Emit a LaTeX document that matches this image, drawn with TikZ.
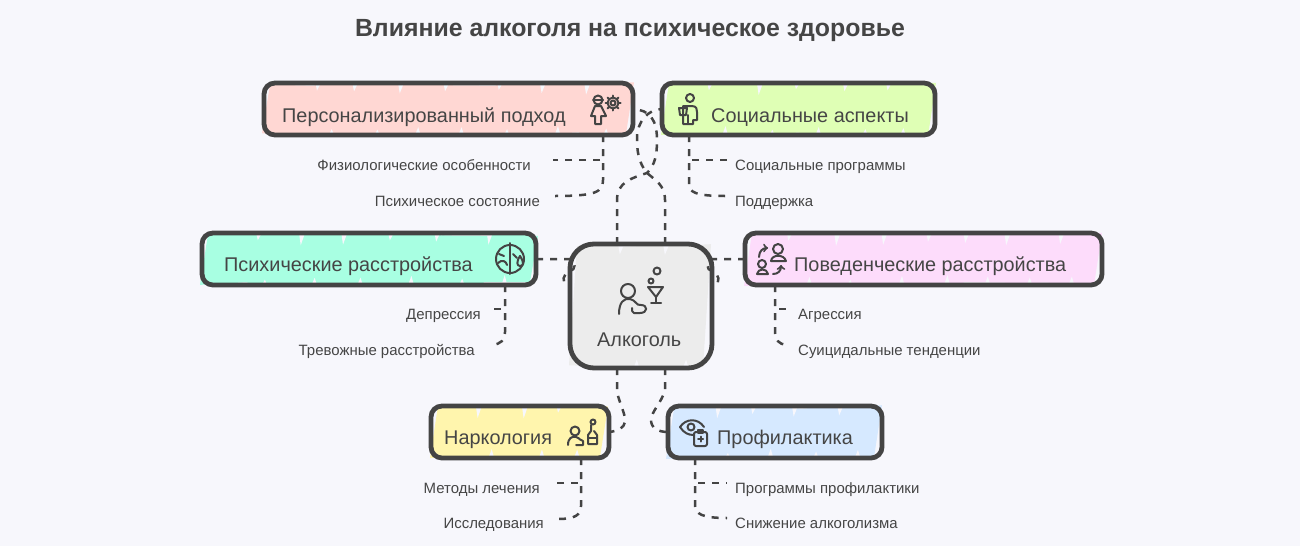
\documentclass[tikz,border=0pt]{standalone}
\usepackage{fontspec}
\setmainfont{Liberation Sans}
\definecolor{inkc}{HTML}{444444}
\definecolor{txtc}{HTML}{454545}
\definecolor{bgc}{HTML}{F7F7FC}
\definecolor{persc}{HTML}{FFD7D3}
\definecolor{socc}{HTML}{DFFFB5}
\definecolor{psyc}{HTML}{A8FFE2}
\definecolor{behc}{HTML}{FDDCFB}
\definecolor{alcc}{HTML}{ECECEC}
\definecolor{narc}{HTML}{FFF5AD}
\definecolor{proc}{HTML}{D6E9FF}
\tikzset{
  box/.style={draw=inkc, line width=4.8pt, rounded corners=11pt, inner sep=0pt, outer sep=0pt},
  boxtxt/.style={anchor=base west, inner sep=0pt, text=txtc, font=\fontsize{19.85}{24}\selectfont},
  subtxt/.style={inner sep=0pt, text=txtc, font=\fontsize{14.95}{18}\selectfont},
  link/.style={draw=inkc, line width=2.5pt, dash pattern=on 7pt off 7pt},
  ico/.style={draw=inkc, line width=2pt, line cap=round, line join=round},
}
% sketchy marker strokes behind a box: x1,y1,x2,y2,colour
\newcommand{\hatchfill}[5]{%
  \pgfmathtruncatemacro\hcount{(#3-#1)/48}
  \pgfmathsetmacro\hwid{(#3-#1)/(\hcount+1)}
  \foreach \hn in {0,...,\hcount}{
    \pgfmathsetmacro\xa{#1+\hn*\hwid}
    \pgfmathsetmacro\xb{\xa+\hwid+2}
    \pgfmathsetmacro\ta{rnd*4-2}
    \pgfmathsetmacro\tb{rnd*4-2}
    \pgfmathsetmacro\tc{rnd*4-2}
    \pgfmathsetmacro\td{rnd*4-2}
    \fill[#5] (\xa+4,#2+\ta) -- (\xb+4,#2+\tb) -- (\xb-4,#4-\tc) -- (\xa-4,#4-\td) -- cycle;
  }
  \foreach \hn in {1,...,\hcount}{
    \pgfmathsetmacro\xa{#1+\hn*\hwid+rnd*12-6}
    \pgfmathsetmacro\xc{#1+\hn*\hwid+rnd*12+10}
    \pgfmathsetmacro\ta{rnd*7+5}
    \pgfmathsetmacro\tc{rnd*6+4}
    \fill[bgc] (\xa,#2-3) -- (\xa+7,#2-3) -- (\xa+2,#2+\ta) -- cycle;
    \fill[bgc] (\xc,#4+3) -- (\xc+7,#4+3) -- (\xc+4,#4-\tc) -- cycle;
  }
}
\begin{document}
\begin{tikzpicture}[x=1pt,y=-1pt]
\pgfmathsetseed{11}
\useasboundingbox (0,0) rectangle (1300,546);
\fill[bgc] (0,0) rectangle (1300,546);
\node[text=txtc, inner sep=0pt, anchor=base, font=\bfseries\fontsize{24.85}{28}\selectfont] (title) at (630,36) {Влияние алкоголя на психическое здоровье};

% marker fills
\hatchfill{266}{84}{628}{134}{persc}
\hatchfill{665}{84}{930}{134}{socc}
\hatchfill{204}{234}{532}{284}{psyc}
\hatchfill{748}{234}{1096}{284}{behc}
\hatchfill{573}{246}{705}{367}{alcc}
\hatchfill{434}{407}{602}{457}{narc}
\hatchfill{670}{407}{876}{457}{proc}

% boxes
\node[box, minimum width=369pt, minimum height=52pt] (pers) at (448.5,109) {};
\node[box, minimum width=273pt, minimum height=52pt] (soc) at (798.5,109) {};
\node[box, minimum width=334pt, minimum height=52pt] (psy) at (369,259) {};
\node[box, minimum width=357pt, minimum height=52pt] (beh) at (923.5,259) {};
\node[box, rounded corners=24pt, minimum width=142pt, minimum height=124pt] (alc) at (641,306) {};
\node[box, minimum width=178pt, minimum height=52pt] (nar) at (520,432) {};
\node[box, minimum width=214pt, minimum height=52pt] (pro) at (775,432) {};

% box labels
\node[boxtxt] (perslbl) at (282,122) {Персонализированный подход};
\node[boxtxt] (soclbl) at (711,122) {Социальные аспекты};
\node[boxtxt] (psylbl) at (224,271) {Психические расстройства};
\node[boxtxt] (behlbl) at (794,271) {Поведенческие расстройства};
\node[boxtxt] (alclbl) at (597,346) {Алкоголь};
\node[boxtxt] (narlbl) at (444,444) {Наркология};
\node[boxtxt] (prolbl) at (717,444) {Профилактика};

% free ends of the side lines
\coordinate (fizend) at (553,160);
\coordinate (psiend) at (555,196);
\coordinate (sprend) at (727,160);
\coordinate (podend) at (725,196);
\coordinate (depend) at (490,309);
\coordinate (treend) at (492,345);
\coordinate (agrend) at (790,309);
\coordinate (suiend) at (786,345);
\coordinate (metend) at (553,483);
\coordinate (issend) at (558,519);
\coordinate (prgend) at (727,483);
\coordinate (sniend) at (727,518);

% side lines
\draw[link] ([xshift=154.5pt]pers.south) |- (fizend);
\draw[link] ([xshift=154.5pt]pers.south) -- (603,180) .. controls (603,192) and (596,196) .. (psiend);
\draw[link] ([xshift=-109.5pt]soc.south) |- (sprend);
\draw[link] ([xshift=-109.5pt]soc.south) -- (689,184) .. controls (689,192) and (695,196) .. (podend);
\draw[link] ([xshift=136pt]psy.south) |- (depend);
\draw[link] ([xshift=136pt]psy.south) -- (505,332) .. controls (505,340) and (501,344) .. (treend);
\draw[link] ([xshift=-148.5pt]beh.south) |- (agrend);
\draw[link] ([xshift=-148.5pt]beh.south) -- (775,332) .. controls (775,340) and (779,344) .. (suiend);
\draw[link] ([xshift=61pt]nar.south) |- (metend);
\draw[link] ([xshift=61pt]nar.south) -- (581,506) .. controls (581,515) and (575,519) .. (issend);
\draw[link] ([xshift=-80pt]pro.south) |- (prgend);
\draw[link] ([xshift=-80pt]pro.south) -- (695,505) .. controls (695,514) and (702,518) .. (sniend);

% lines from the centre
\draw[link] ([xshift=-24pt]alc.north) -- (617,200) .. controls (617,182) and (632,178) .. (647,173) .. controls (655,165) and (657,155) .. (657,140) .. controls (657,120) and (650,110) .. (pers.east);
\draw[link] ([xshift=24pt]alc.north) -- (665,200) .. controls (665,185) and (655,180) .. (647,173) .. controls (638,162) and (637,150) .. (637,138) .. controls (637,122) and (648,109) .. (soc.west);
\draw[link] (psy.east) -- (alc.west |- psy.east) .. controls (576,262) and (576,270) .. (570,271) .. controls (562,274) and (562,282) .. (567,287);
\draw[link] (beh.west) -- (alc.east |- beh.west) .. controls (706,262) and (706,270) .. (712,271) .. controls (720,274) and (720,282) .. (715,287);
\draw[link] ([xshift=-24pt]alc.south) -- (617,392) .. controls (620,405) and (626,415) .. (625,422) .. controls (624,428) and (618,431) .. (nar.east);
\draw[link] ([xshift=24pt]alc.south) -- (665,390) .. controls (662,402) and (651,412) .. (651,420) .. controls (651,428) and (658,432) .. (pro.west);

% small labels
\node[subtxt, anchor=base east] (fizlbl) at (531,170) {Физиологические особенности};
\node[subtxt, anchor=base east] (psilbl) at (540,206) {Психическое состояние};
\node[subtxt, anchor=base west] (sprlbl) at (735,170) {Социальные программы};
\node[subtxt, anchor=base west] (podlbl) at (735,206) {Поддержка};
\node[subtxt, anchor=base east] (deplbl) at (481,319) {Депрессия};
\node[subtxt, anchor=base east] (trelbl) at (475,355) {Тревожные расстройства};
\node[subtxt, anchor=base west] (agrlbl) at (798,319) {Агрессия};
\node[subtxt, anchor=base west] (suilbl) at (798,355) {Суицидальные тенденции};
\node[subtxt, anchor=base east] (metlbl) at (540,493) {Методы лечения};
\node[subtxt, anchor=base east] (isslbl) at (544,528) {Исследования};
\node[subtxt, anchor=base west] (prglbl) at (735,493) {Программы профилактики};
\node[subtxt, anchor=base west] (snilbl) at (735,528) {Снижение алкоголизма};

% icon: woman and gear
\draw[ico] (598,100) circle (4.5);
\draw[ico] (593,100) -- (603,100);
\draw[ico] (595,106) -- (601,106) -- (606,116) -- (601,116) -- (601,124) -- (595,124) -- (595,116) -- (591,116) -- cycle;
\draw[ico] (613,103) circle (2.5);
\draw[ico] (613,103) circle (5.5);
\foreach \ang in {0,45,...,315}
  \draw[ico] (613,103) ++(\ang:5.5) -- ++(\ang:2);
% icon: standing person
\draw[ico] (690,98) circle (4);
\draw[ico] (683,124) -- (683,106) -- (692,106) .. controls (697,106) and (697,110) .. (697,112) -- (697,120) -- (693,120) -- (693,124) -- (683,124);
\draw[ico] (679,108) -- (687,108) -- (686,115) -- (680,115) -- cycle;
\draw[ico] (688,115) -- (688,124);
% icon: split head
\draw[ico] (510,259) circle (14);
\draw[ico] (510,243) -- (510,274);
\draw[ico] (499,254) -- (504,256);
\draw[ico] (498,263) .. controls (502,259) and (506,261) .. (507,265);
\draw[ico] (513,254) -- (517,258);
\draw[ico] (520,256) .. controls (516,262) and (517,266) .. (520,266) .. controls (524,266) and (524,262) .. (520,256);
% icon: two people and arrows
\draw[ico] (778,249) circle (5);
\draw[ico] (771,261) .. controls (772,254) and (784,254) .. (786,261) -- cycle;
\draw[ico] (762,264) circle (4);
\draw[ico] (757,274) .. controls (758,268) and (767,268) .. (768,274) -- cycle;
\draw[ico, ->] (759,257) .. controls (759,251) and (763,248) .. (768,248);
\draw[ico, ->] (773,274) .. controls (778,274) and (781,271) .. (781,265);
% icon: person with glass
\draw[ico] (628,291) circle (7);
\draw[ico] (619,314) .. controls (619,302) and (624,298) .. (630,299) .. controls (636,300) and (636,306) .. (641,305) .. controls (648,305) and (648,313) .. (640,313) -- (634,313) .. controls (632,313) and (632,310) .. (632,308);
\draw[ico] (648,287) -- (663,287) -- (656,297) -- cycle;
\draw[ico] (656,297) -- (656,303);
\draw[ico] (651,303) -- (661,303);
\draw[ico] (657,271) circle (3.5);
\draw[ico] (651,281) circle (2.5);
% icon: person with bottle
\draw[ico] (575,431) circle (4.5);
\draw[ico] (568,445) .. controls (568,438) and (572,436) .. (576,437) .. controls (580,438) and (580,441) .. (583,441) -- (583,445) -- (576,445);
\draw[ico] (593,422) circle (2.5);
\draw[ico] (591,425) -- (591,431) -- (588,435) -- (588,444) -- (597,444) -- (597,435) -- (594,431);
\draw[ico] (588,438) -- (597,438);
% icon: eye and clipboard
\draw[ico] (680,427) .. controls (686,418) and (698,418) .. (704,427);
\draw[ico] (680,427) .. controls (684,433) and (688,435) .. (694,435);
\draw[ico] (691,427) circle (3.5);
\draw[ico, rounded corners=2pt] (694,432) rectangle (707,446);
\draw[ico] (698,430) rectangle (703,433);
\draw[ico] (698,439) -- (703,439);
\draw[ico] (700.5,436.5) -- (700.5,441.5);
\end{tikzpicture}
\end{document}
